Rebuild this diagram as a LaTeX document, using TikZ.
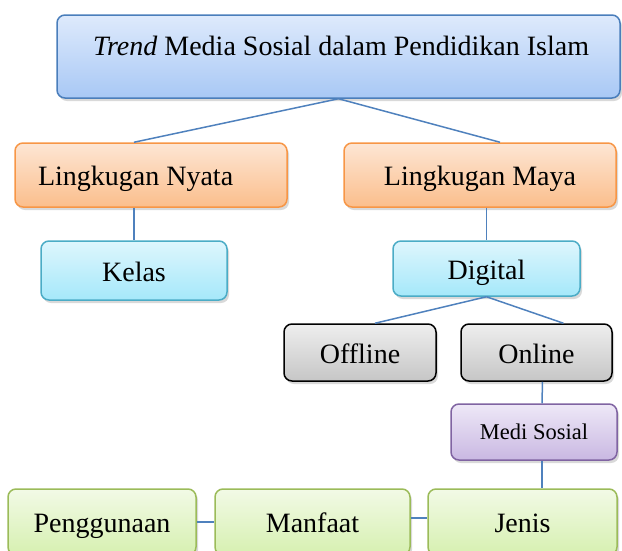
\documentclass[tikz,border=0pt]{standalone}
\usepackage{fontspec}
\setmainfont{Liberation Serif}
\usetikzlibrary{shadows}
\definecolor{linkblue}{HTML}{4F81BD}
\definecolor{topline}{HTML}{4A7EBB}
\definecolor{orangeline}{HTML}{F79646}
\definecolor{cyanline}{HTML}{4BACC6}
\definecolor{purpleline}{HTML}{8064A2}
\definecolor{greenline}{HTML}{9BBB59}
\begin{document}
\begin{tikzpicture}[x=1pt,y=-1pt,
  box/.style={draw, rounded corners=8pt, line width=1.5pt, inner sep=0pt,
    font=\fontsize{28}{32}\selectfont, text height=21pt, text depth=0pt,
    drop shadow={opacity=0.3, shadow xshift=2pt, shadow yshift=-3pt}},
  bluebox/.style={box, draw=topline, top color={rgb,255:red,222;green,234;blue,252}, bottom color={rgb,255:red,168;green,200;blue,245}},
  orangebox/.style={box, draw=orangeline, top color={rgb,255:red,253;green,230;blue,212}, bottom color={rgb,255:red,251;green,190;blue,140}},
  cyanbox/.style={box, draw=cyanline, top color={rgb,255:red,222;green,246;blue,253}, bottom color={rgb,255:red,165;green,232;blue,250}},
  greybox/.style={box, draw=black, top color={rgb,255:red,238;green,238;blue,238}, bottom color={rgb,255:red,198;green,198;blue,198}},
  purplebox/.style={box, draw=purpleline, top color={rgb,255:red,238;green,232;blue,247}, bottom color={rgb,255:red,201;green,184;blue,226}},
  greenbox/.style={box, draw=greenline, top color={rgb,255:red,242;green,250;blue,230}, bottom color={rgb,255:red,214;green,240;blue,176}},
  link/.style={draw=linkblue, line width=1.5pt}]

\useasboundingbox (0,0) rectangle (622,550);

% Top of the tree
\node [bluebox, minimum width=563pt, minimum height=83pt] (trend) at (338.5,56.5) {};
\node [font=\fontsize{28}{32}\selectfont, text height=21pt, text depth=0pt, inner sep=0pt] (trendtext) at (341,45) {\textit{Trend} Media Sosial dalam Pendidikan Islam};

% Two environments
\node [orangebox, minimum width=272pt, minimum height=64pt, text width=226pt, align=flush left] (nyata) at (151,175) {Lingkugan Nyata};
\node [orangebox, minimum width=272pt, minimum height=64pt] (maya) at (480,175) {Lingkugan Maya};

\node [cyanbox, minimum width=186pt, minimum height=59pt] (kelas) at (134,270.5) {Kelas};
\node [cyanbox, minimum width=187pt, minimum height=55pt] (digital) at (486.5,268.5) {Digital};

% Digital branch
\node [greybox, minimum width=152pt, minimum height=57pt] (offline) at (360,352.5) {Offline};
\node [greybox, minimum width=151pt, minimum height=57pt] (online) at (536.5,352.5) {Online};

\node [purplebox, minimum width=166pt, minimum height=56pt, font=\fontsize{22.5}{26}\selectfont, text height=15pt] (medsos) at (534,432) {Medi Sosial};

% Bottom row, cut by the page edge
\node [greenbox, minimum width=188pt, minimum height=66pt] (guna) at (102,522) {Penggunaan};
\node [greenbox, minimum width=195pt, minimum height=66pt] (manfaat) at (312.5,522) {Manfaat};
\node [greenbox, minimum width=189pt, minimum height=66pt] (jenis) at (522.5,522) {Jenis};

% Connectors
\draw [link] (trend.south) -- (nyata.north -| kelas.north);
\draw [link] (trend.south) -- ([xshift=20pt]maya.north);
\draw [link] (nyata.south -| kelas.north) -- (kelas.north);
\draw [link] (maya.south -| digital.north) -- (digital.north);
\draw [link] (digital.south) -- ([xshift=15pt]offline.north);
\draw [link] (digital.south) -- ([xshift=27pt]online.north);
\draw [link] ([xshift=6pt]online.south) -- ([xshift=8pt]medsos.north);
\draw [link] ([xshift=8pt]medsos.south) -- ([xshift=19.5pt]jenis.north);
\draw [link] (guna.east) -- (manfaat.west);
\draw [link] ([yshift=4pt]manfaat.east) -- ([yshift=4pt]jenis.west);
\end{tikzpicture}
\end{document}
